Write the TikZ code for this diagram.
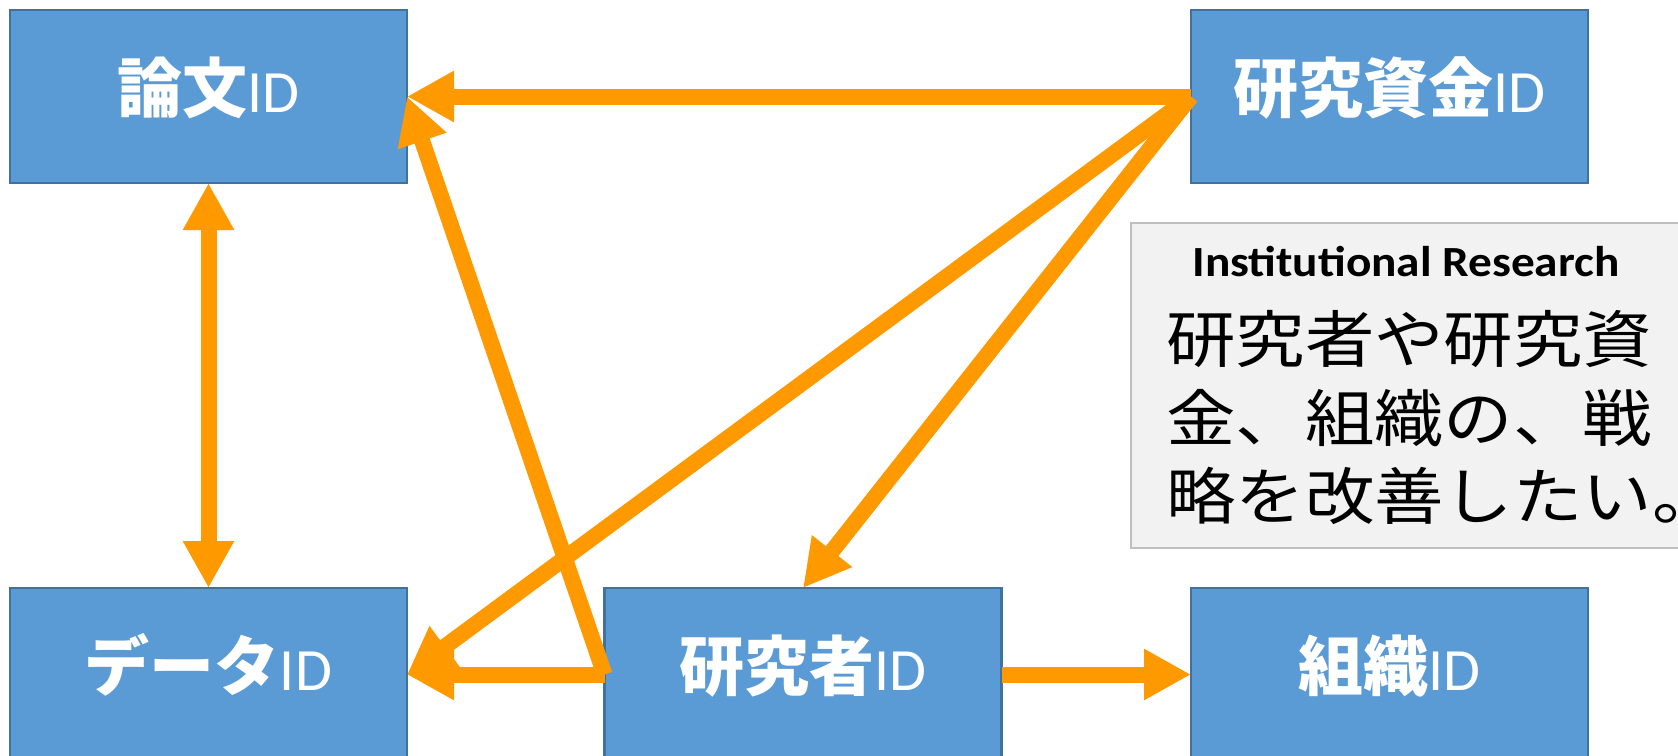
\documentclass[tikz,border=0pt]{standalone}
\usepackage{fontspec}
\setmainfont{Carlito}
\newfontfamily\jp{Noto Sans CJK JP}
\usetikzlibrary{arrows.meta}
\definecolor{boxfill}{HTML}{5B9BD5}
\definecolor{boxline}{HTML}{41719C}
\definecolor{arr}{HTML}{FF9900}
\definecolor{notefill}{HTML}{F2F2F2}
\definecolor{noteline}{HTML}{BFBFBF}
\tikzset{
  x=1pt, y=-1pt,
  idbox/.style={draw=boxline, line width=2.5pt, fill=boxfill, text=white,
    minimum width=397pt, minimum height=173pt, inner sep=0pt, outer sep=0pt,
    text height=46pt, text depth=14pt},
  conn/.style={draw=arr, line width=16pt, -{Triangle[length=47pt,width=48pt]}},
  conn2/.style={draw=arr, line width=16pt, {Triangle[length=47pt,width=48pt]}-{Triangle[length=47pt,width=48pt]}},
  jline/.style={anchor=west, inner sep=0pt, font=\jp\fontsize{62}{62}\selectfont},
}
\newcommand{\lbl}[1]{{\jp\bfseries\fontsize{65}{65}\selectfont #1}{\fontsize{60}{60}\selectfont ID}}
\newcommand{\wide}[1]{\scalebox{1.12}[1]{#1}}
\begin{document}
\begin{tikzpicture}
\useasboundingbox (0,0) rectangle (1678,755);
\clip (0,0) rectangle (1678,755);
\fill[white] (0,0) rectangle (1678,755);
% note box
\draw[draw=noteline, line width=2pt, fill=notefill] (1131,223) rectangle (1700,548);
\node[font=\bfseries\fontsize{43}{43}\selectfont, inner sep=0pt] (ir) at (1406,262) {\scalebox{1.1}[1]{Institutional Research}};
\node[jline] (l1) at (1166,339) {\wide{研究者や研究資}};
\node[jline] (l2) at (1166,418) {\wide{金、組織の、戦}};
\node[jline] (l3) at (1166,496) {\wide{略を改善したい。}};
% boxes
\node[idbox] (paper) at (208.5,96.5) {\lbl{論文}};
\node[idbox] (fund) at (1389.5,96.5) {\lbl{研究資金}};
\node[idbox] (data) at (208.5,674.5) {\lbl{データ}};
\node[idbox] (res) at (803,674.5) {\lbl{研究者}};
\node[idbox] (org) at (1389.5,674.5) {\lbl{組織}};
% connectors
\draw[conn] (fund.west) -- (paper.east);
\draw[conn] (fund.west) -- (data.east);
\draw[conn] (fund.west) -- (res.north);
\draw[conn] (res.west) -- (paper.east);
\draw[conn] (res.west) -- (data.east);
\draw[conn] (res.east) -- (org.west);
\draw[conn2] (paper.south) -- (data.north);
\end{tikzpicture}
\end{document}
